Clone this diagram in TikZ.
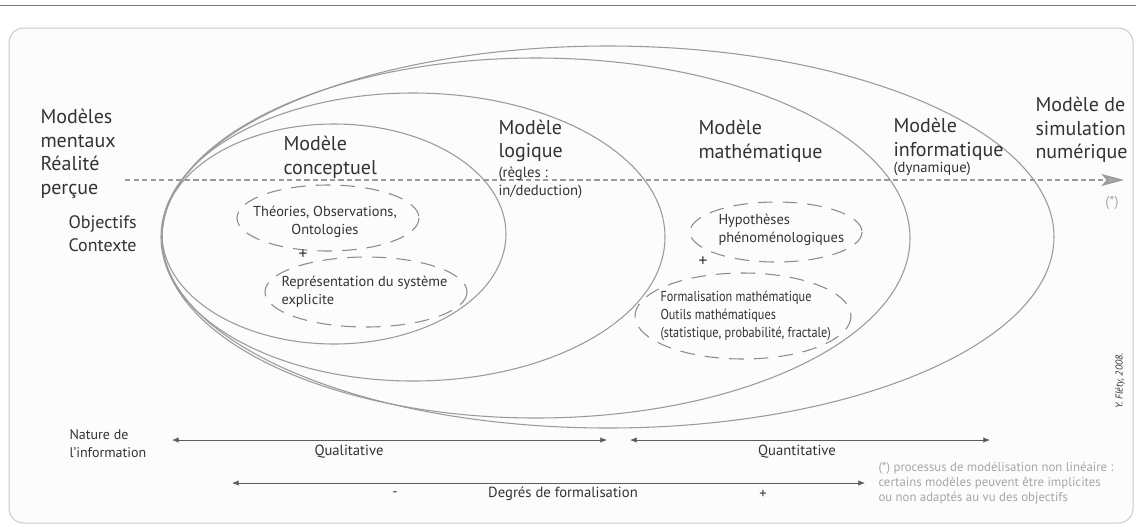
\documentclass[tikz,border=0pt]{standalone}
\usepackage{fontspec}
\setmainfont{PT Sans}
\newfontfamily\condfont[FakeStretch=0.85]{PT Sans}
\usetikzlibrary{arrows.meta}

\definecolor{txtgray}{HTML}{333333}
\definecolor{linegray}{HTML}{9A9A9A}
\definecolor{dashgray}{HTML}{8C8C8C}
\definecolor{notegray}{HTML}{A6A6A6}
\definecolor{framegray}{HTML}{CACACA}
\definecolor{framefill}{HTML}{FCFCFC}

\tikzset{every picture/.style={line width=0.75pt}}
\tikzset{
  modele/.style={anchor=west, align=left, inner sep=0pt, text=txtgray, font=\fontsize{15}{17.8}\selectfont},
  petit/.style={anchor=west, align=left, inner sep=0pt, text=txtgray, font=\fontsize{11}{13.5}\selectfont},
  dedans/.style={inner sep=0pt, text=txtgray, font=\fontsize{10.8}{13.5}\selectfont},
  serre/.style={anchor=west, align=left, inner sep=0pt, text=txtgray, font=\condfont\fontsize{10.8}{13.5}\selectfont},
  ell/.style={draw=linegray, line width=0.8pt},
  dashell/.style={draw=dashgray, line width=0.8pt, dash pattern=on 11pt off 7.5pt},
  fleche/.style={draw=txtgray!80, line width=0.5pt, {Latex[length=5pt,width=4pt]}-{Latex[length=5pt,width=4pt]}},
}

\begin{document}
\begin{tikzpicture}[x=0.75pt,y=0.75pt,yscale=-1,xscale=1]
	\useasboundingbox (0,0) rectangle (1136,526);

	%Straight Lines
	\draw [color={rgb,255:red,120;green,120;blue,120}, line width=0.6pt] (0,5) -- (1136,5) ;
	%Shape: Rectangle
	\draw [draw=framegray, fill=framefill, rounded corners=11pt] (9,28) rectangle (1133,523) ;

	%Shape: Ellipse
	\draw [ell] (608,237) ellipse (446 and 191) ;
	%Shape: Ellipse
	\draw [ell] (536,238) ellipse (374 and 180) ;
	%Shape: Ellipse
	\draw [ell] (413,237) ellipse (252 and 144) ;
	%Shape: Ellipse
	\draw [ell] (334,234) ellipse (172 and 110) ;

	%Shape: Ellipse
	\draw [dashell] (328,218) ellipse (91 and 33) ;
	%Shape: Ellipse
	\draw [dashell] (366,292) ellipse (101 and 35) ;
	%Shape: Ellipse
	\draw [dashell] (776,232) ellipse (86 and 30) ;
	%Shape: Ellipse
	\draw [dashell] (743,316) ellipse (108 and 43) ;

	%Straight Lines
	\coordinate (percu) at (125,180) ;
	\coordinate (simul) at (1124,180) ;
	\draw [draw=linegray, line width=1.2pt, dash pattern=on 4pt off 2.4pt, -{Stealth[length=17pt,width=9pt,inset=4pt,fill=linegray!85]}] (percu) -- (simul) ;

	% Text Node
	\draw (40,154) node [modele] (mentaux) {Modèles\\mentaux\\Réalité\\perçue};
	% Text Node
	\draw (68,234) node [modele, font=\fontsize{13.5}{17.5}\selectfont] (objectifs) {Objectifs\\Contexte};
	% Text Node
	\draw (283,157) node [modele] (conceptuel) {Modèle\\conceptuel};
	% Text Node
	\draw (498,141) node [modele] (logique) {Modèle\\logique};
	% Text Node
	\draw (498,183) node [petit] (regles) {(règles :\\in/deduction)};
	% Text Node
	\draw (698,141) node [modele] (mathematique) {Modèle\\mathématique};
	% Text Node
	\draw (893,139) node [modele] (informatique) {Modèle\\informatique};
	% Text Node
	\draw (893,169) node [petit] (dynamique) {(dynamique)};
	% Text Node
	\draw (1035,130) node [modele] (simulation) {Modèle de\\simulation\\numérique};
	% Text Node
	\draw (1112,203) node [dedans, text=notegray] (etoile) {(*)};

	% Text Node
	\draw (325,222) node [dedans, align=center] (theories) {Théories, Observations,\\Ontologies};
	% Text Node
	\draw (303,255) node [dedans, font=\fontsize{13}{14}\selectfont] (plusA) {+};
	% Text Node
	\draw (281,292) node [dedans, anchor=west, align=left] (representation) {Représentation du système\\explicite};
	% Text Node
	\draw (718,230) node [dedans, anchor=west, align=left] (hypotheses) {Hypothèses\\phénoménologiques};
	% Text Node
	\draw (703,262) node [dedans, font=\fontsize{13}{14}\selectfont] (plusB) {+};
	% Text Node
	\draw (660,316) node [serre] (formalisation) {Formalisation mathématique\\Outils mathématiques\\(statistique, probabilité, fractale)};

	%Straight Lines
	\coordinate (qualA) at (172,440) ;
	\coordinate (qualB) at (607,440) ;
	\coordinate (quanA) at (630,440) ;
	\coordinate (quanB) at (990,440) ;
	\coordinate (formA) at (232,483) ;
	\coordinate (formB) at (865,483) ;
	\draw [fleche] (qualA) -- (qualB) ;
	\draw [fleche] (quanA) -- (quanB) ;
	\draw [fleche] (formA) -- (formB) ;

	% Text Node
	\draw (69,444) node [petit, font=\fontsize{10.5}{13.5}\selectfont] (nature) {Nature de\\l’information};
	% Text Node
	\draw (349,452) node [dedans, font=\fontsize{11}{13}\selectfont] (qualitative) {Qualitative};
	% Text Node
	\draw (797,452) node [dedans, font=\fontsize{11}{13}\selectfont] (quantitative) {Quantitative};
	% Text Node
	\draw (395,494) node [dedans, font=\fontsize{11}{13}\selectfont] (moins) {-};
	% Text Node
	\draw (563,494) node [dedans, font=\fontsize{11}{13}\selectfont] (degres) {Degrés de formalisation};
	% Text Node
	\draw (763,494) node [dedans, font=\fontsize{11}{13}\selectfont] (plus) {+};
	% Text Node
	\draw (878,483) node [petit, text=notegray, font=\fontsize{9.6}{11.3}\selectfont] (note) {(*) processus de modélisation non linéaire :\\certains modèles peuvent être implicites\\ou non adaptés au vu des objectifs};
	% Text Node
	\draw (1120,381) node [dedans, rotate=90, font=\fontsize{7.5}{9}\itshape] (signature) {Y. Fléty, 2008.};

\end{tikzpicture}
\end{document}
